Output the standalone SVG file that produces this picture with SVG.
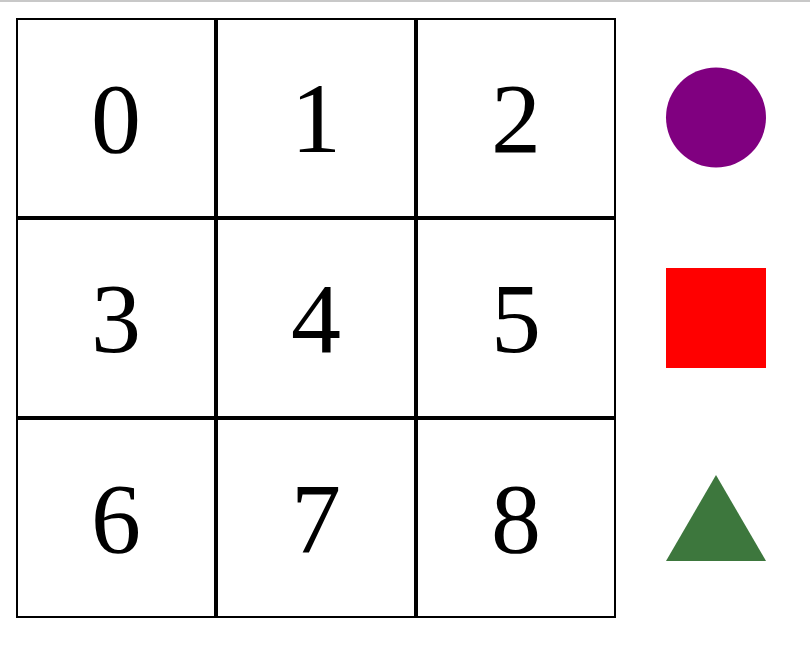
<svg xmlns="http://www.w3.org/2000/svg" width="810" height="660" viewBox="0 0 810 660">
<style>
.cell{fill:#fff;stroke:#000;stroke-width:2}
.num{font-family:"Liberation Serif","Times New Roman",serif;font-size:100px;text-anchor:middle;fill:#000}
</style>
<rect width="810" height="660" fill="#fff"/>
<line x1="0" y1="1" x2="810" y2="1" stroke="#c8c8c8" stroke-width="2"/>
<g id="grid">
<g id="cell0"><rect class="cell" x="17" y="19" width="198" height="198"/><text class="num" x="116" y="152">0</text></g>
<g id="cell1"><rect class="cell" x="217" y="19" width="198" height="198"/><text class="num" x="316" y="152">1</text></g>
<g id="cell2"><rect class="cell" x="417" y="19" width="198" height="198"/><text class="num" x="516" y="152">2</text></g>
<g id="cell3"><rect class="cell" x="17" y="219" width="198" height="198"/><text class="num" x="116" y="352">3</text></g>
<g id="cell4"><rect class="cell" x="217" y="219" width="198" height="198"/><text class="num" x="316" y="352">4</text></g>
<g id="cell5"><rect class="cell" x="417" y="219" width="198" height="198"/><text class="num" x="516" y="352">5</text></g>
<g id="cell6"><rect class="cell" x="17" y="419" width="198" height="198"/><text class="num" x="116" y="552">6</text></g>
<g id="cell7"><rect class="cell" x="217" y="419" width="198" height="198"/><text class="num" x="316" y="552">7</text></g>
<g id="cell8"><rect class="cell" x="417" y="419" width="198" height="198"/><text class="num" x="516" y="552">8</text></g>
</g>
<g id="circle"><circle cx="716" cy="117.5" r="50" fill="#800080"/></g>
<g id="square"><rect x="666" y="268" width="100" height="100" fill="#ff0000"/></g>
<g id="triangle"><polygon points="716,475 766,561 666,561" fill="#3d773d"/></g>
</svg>
